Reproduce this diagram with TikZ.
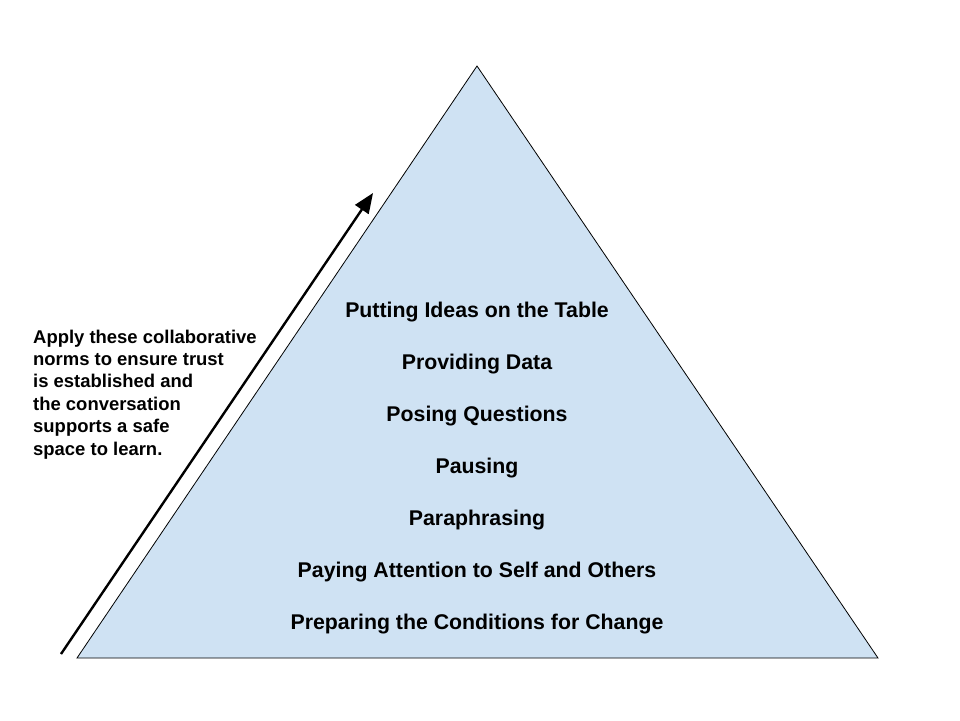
\documentclass[tikz,border=0pt]{standalone}
\usepackage{fontspec}
\setmainfont{Liberation Sans}
\usetikzlibrary{arrows.meta}
\begin{document}
\begin{tikzpicture}[x=1pt,y=-1pt,
  lvl/.style={font=\bfseries\fontsize{21.3}{24}\selectfont, anchor=base, inner sep=0pt},
  note/.style={font=\bfseries\fontsize{18.45}{22.4}\selectfont, anchor=base west, inner sep=0pt},
  pyr/.style={draw=black, line width=0.8pt, fill=pyrblue, line join=miter}]
\definecolor{pyrblue}{HTML}{CFE2F3}
\useasboundingbox (0,0) rectangle (960,720);
\coordinate (apex) at (477,66);
\coordinate (bl) at (77,658);
\coordinate (br) at (878,658);
\draw[pyr] (apex) -- (br) -- (bl) -- cycle;
\coordinate (arrs) at (61,654);
\coordinate (arre) at (373,193);
\draw[line width=2.4pt, -{Triangle[length=20pt,width=16pt]}] (arrs) -- (arre);
\node[lvl] (l1) at (477,317) {Putting Ideas on the Table};
\node[lvl] (l2) at (477,369) {Providing Data};
\node[lvl] (l3) at (477,421) {Posing Questions};
\node[lvl] (l4) at (477,473) {Pausing};
\node[lvl] (l5) at (477,525) {Paraphrasing};
\node[lvl] (l6) at (477,577) {Paying Attention to Self and Others};
\node[lvl] (l7) at (477,629.5) {Preparing the Conditions for Change};
\node[note] (n1) at (33,343) {Apply these collaborative};
\node[note] (n2) at (33,365.4) {norms to ensure trust};
\node[note] (n3) at (33,387.8) {is established and};
\node[note] (n4) at (33,410.2) {the conversation};
\node[note] (n5) at (33,432.6) {supports a safe};
\node[note] (n6) at (33,455) {space to learn.};
\end{tikzpicture}
\end{document}
